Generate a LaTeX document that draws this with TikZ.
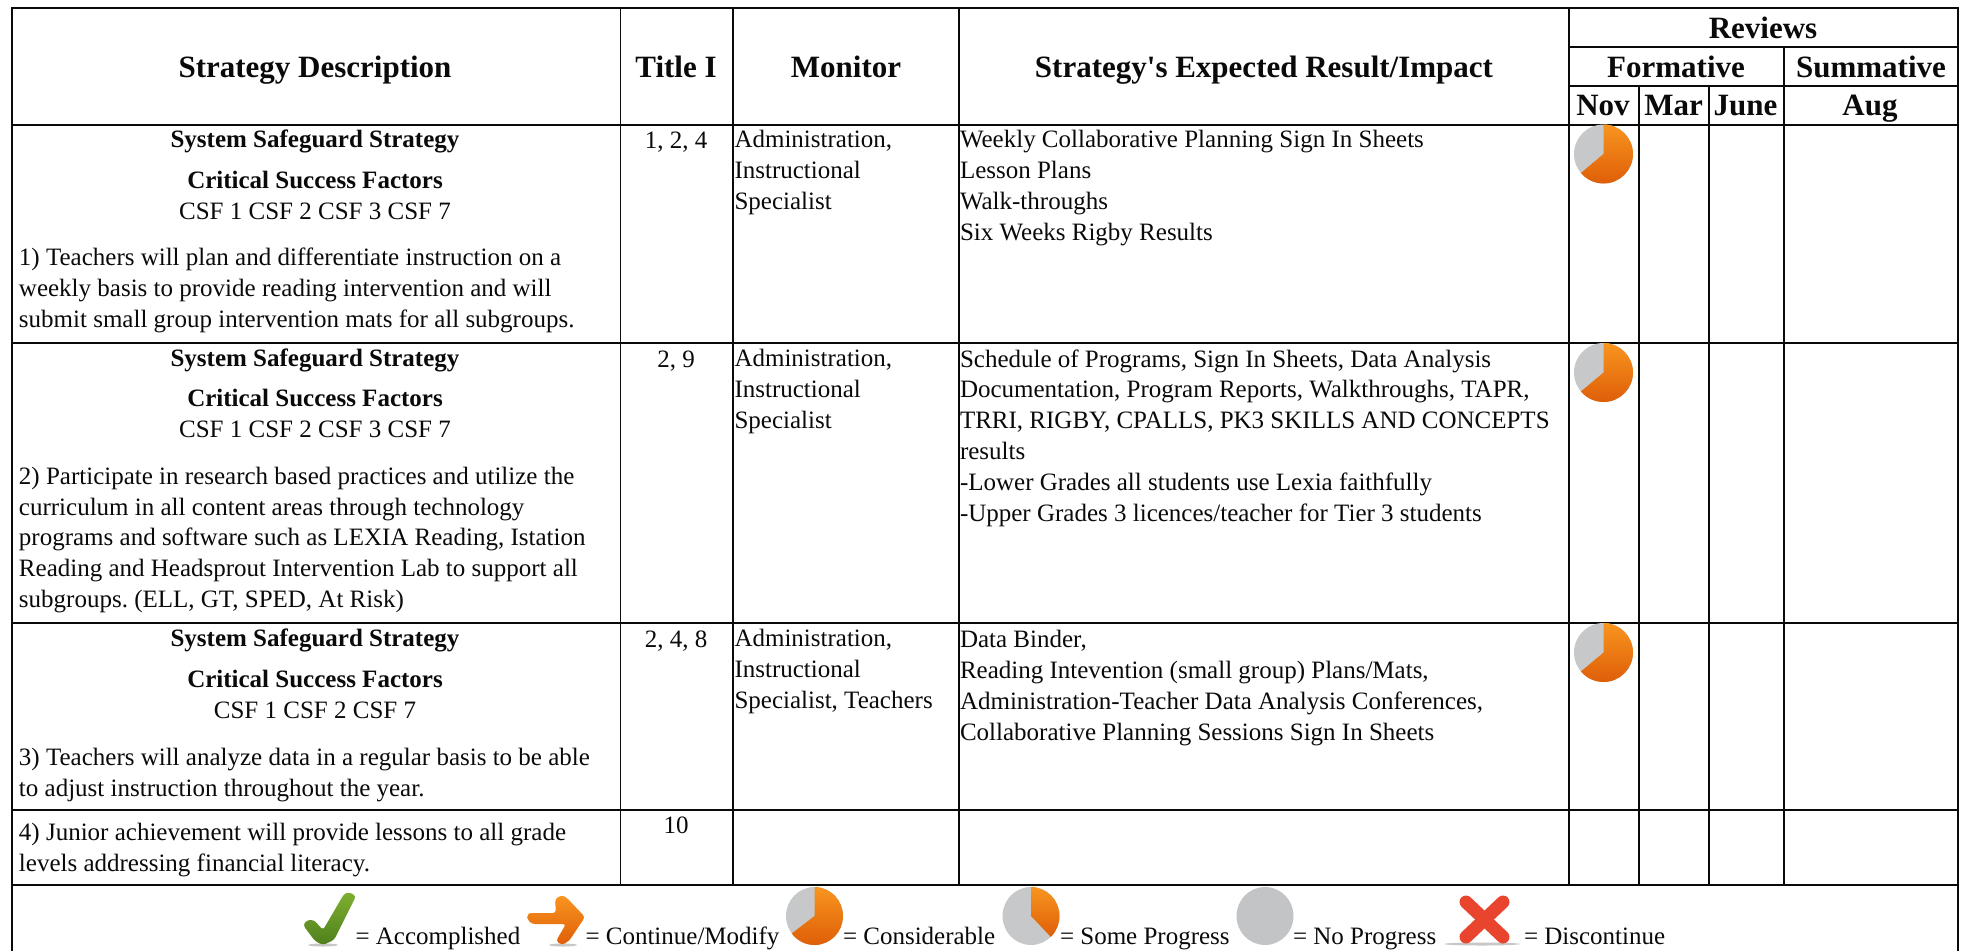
\documentclass[tikz,border=0pt]{standalone}
\usepackage{fontspec}
\setmainfont{Liberation Serif}
\frenchspacing
\definecolor{ink}{HTML}{0A0A0A}
\definecolor{pieGray}{HTML}{C6C8CA}
\definecolor{pieGrayD}{HTML}{B8BABC}
\definecolor{orangeT}{HTML}{F8951F}
\definecolor{orangeB}{HTML}{DF5E08}
\definecolor{greenT}{HTML}{7FB02F}
\definecolor{greenB}{HTML}{4F7F1D}
\definecolor{redX}{HTML}{E8442E}
\tikzset{
  body/.style={inner sep=0pt,outer sep=0pt,text=ink,font=\fontsize{25}{30.8}\selectfont,anchor=base west,align=left},
  bodyc/.style={inner sep=0pt,outer sep=0pt,text=ink,font=\fontsize{25}{30.8}\selectfont,anchor=base},
  bodyb/.style={bodyc,font=\fontsize{25}{30.8}\selectfont\bfseries},
  head/.style={inner sep=0pt,outer sep=0pt,text=ink,font=\fontsize{31}{36}\selectfont\bfseries,anchor=base},
  rowrule/.style={draw=ink,line width=2pt},
  colrule/.style={draw=ink,line width=1.7pt},
  iconshadow/.style={fill=black!22},
}
% \pieicon{x}{y}{rx}{ry}{orange end angle, clockwise from the top edge measured in the flipped y axis}
\newcommand{\pieicon}[5]{%
  \fill[pieGray] (#1,#2) ellipse [x radius=#3,y radius=#4];
  \path[top color=orangeT,bottom color=orangeB]
    (#1,#2) -- ({#1},{#2-#4}) arc [start angle=-90,end angle=#5,x radius=#3,y radius=#4] -- cycle;
}
\begin{document}
\begin{tikzpicture}[x=1pt,y=-1pt]
\useasboundingbox (0,0) rectangle (1963,951);
\fill[white] (0,0) rectangle (1963,951);
% rules
\draw[rowrule] (11,8) -- (1959,8);
\draw[rowrule] (1569,47) -- (1958,47);
\draw[rowrule] (1569,85.5) -- (1958,85.5);
\foreach \yy in {124.5,342.5,622.5,810,885}
  \draw[rowrule] (11,\yy) -- (1959,\yy);
\foreach \xx in {12,1958}
  \draw[colrule] (\xx,8) -- (\xx,951);
\foreach \xx in {620.5,733,959,1569}
  \draw[colrule] (\xx,8) -- (\xx,885);
\draw[colrule] (1784,47) -- (1784,885);
\foreach \xx in {1639,1709}
  \draw[colrule] (\xx,85.5) -- (\xx,885);
% header
\node[head] (hStrategy) at (315,77) {Strategy Description};
\node[head] (hTitle) at (676,77) {Title I};
\node[head] (hMonitor) at (846,77) {Monitor};
\node[head] (hImpact) at (1264,77) {Strategy\textquotesingle s Expected Result/Impact};
\node[head] (hReviews) at (1763,38) {Reviews};
\node[head] (hFormative) at (1676,77) {Formative};
\node[head] (hSummative) at (1871,77) {Summative};
\node[head] (hNov) at (1603,115) {Nov};
\node[head] (hMar) at (1673.5,115) {Mar};
\node[head] (hJune) at (1745.5,115) {June};
\node[head] (hAug) at (1870,115) {Aug};
% row 1
\node[bodyb] (a1) at (315,147) {System Safeguard Strategy};
\node[bodyb] (b1) at (315,188) {Critical Success Factors};
\node[bodyc] (c1) at (315,219) {CSF 1 CSF 2 CSF 3 CSF 7};
\node[body] (d1) at (19,327) {1) Teachers will plan and differentiate instruction on a\\weekly basis to provide reading intervention and will\\submit small group intervention mats for all subgroups.};
\node[bodyc] (t1) at (676,148) {1, 2, 4};
\node[body] (m1) at (734.5,209.5) {Administration,\\Instructional\\Specialist};
\node[body] (r1) at (960,240) {Weekly Collaborative Planning Sign In Sheets\\Lesson Plans\\Walk-throughs\\Six Weeks Rigby Results};
% row 2
\node[bodyb] (a2) at (315,366) {System Safeguard Strategy};
\node[bodyb] (b2) at (315,406) {Critical Success Factors};
\node[bodyc] (c2) at (315,437) {CSF 1 CSF 2 CSF 3 CSF 7};
\node[body] (d2) at (19,607.5) {2) Participate in research based practices and utilize the\\curriculum in all content areas through technology\\programs and software such as LEXIA Reading, Istation\\Reading and Headsprout Intervention Lab to support all\\subgroups. (ELL, GT, SPED, At Risk)};
\node[bodyc] (t2) at (676,367) {2, 9};
\node[body] (m2) at (734.5,428.5) {Administration,\\Instructional\\Specialist};
\node[body] (r2) at (960,521) {Schedule of Programs, Sign In Sheets, Data Analysis\\Documentation, Program Reports, Walkthroughs, TAPR,\\TRRI, RIGBY, CPALLS, PK3 SKILLS AND CONCEPTS\\results\\-Lower Grades all students use Lexia faithfully\\-Upper Grades 3 licences/teacher for Tier 3 students};
% row 3
\node[bodyb] (a3) at (315,646) {System Safeguard Strategy};
\node[bodyb] (b3) at (315,687) {Critical Success Factors};
\node[bodyc] (c3) at (315,718) {CSF 1 CSF 2 CSF 7};
\node[body] (d3) at (19,796) {3) Teachers will analyze data in a regular basis to be able\\to adjust instruction throughout the year.};
\node[bodyc] (t3) at (676,647) {2, 4, 8};
\node[body] (m3) at (734.5,708.5) {Administration,\\Instructional\\Specialist, Teachers};
\node[body] (r3) at (960,740) {Data Binder,\\Reading Intevention (small group) Plans/Mats,\\Administration-Teacher Data Analysis Conferences,\\Collaborative Planning Sessions Sign In Sheets};
% row 4
\node[body] (d4) at (19,871) {4) Junior achievement will provide lessons to all grade\\levels addressing financial literacy.};
\node[bodyc] (t4) at (676,833) {10};
% review pies
\pieicon{1603.5}{154}{29.5}{29.5}{140}
\pieicon{1603.5}{372.5}{29.5}{29.5}{140}
\pieicon{1603.5}{652.5}{29.5}{29.5}{140}
% legend icons
\fill[iconshadow] (323,945) ellipse [x radius=15,y radius=1.5];
\path[top color=greenT,bottom color=greenB,rounded corners=3pt]
  (349,892) -- (356,896) -- (334,940) -- (323,945) -- (315,941) -- (303,925) -- (307,920) -- (314,920) -- (323,930) -- (344,894) -- cycle;
\fill[iconshadow] (563,945) ellipse [x radius=14,y radius=1.5];
\path[top color=orangeT,bottom color=orangeB,rounded corners=3pt]
  (528,913) -- (556,913) -- (555,899) -- (562,895) -- (567,898) -- (585,917) -- (569,941) -- (562,945) -- (556,941) -- (566,924) -- (532,924) -- (527,919) -- cycle;
\pieicon{814.5}{916}{28.5}{29}{143}
\pieicon{1031}{916}{28.5}{29}{46}
\fill[pieGrayD!85!white] (1265,916) ellipse [x radius=28.5,y radius=29];
\fill[iconshadow] (1482,944) ellipse [x radius=38,y radius=1.5];
\draw[redX,line width=13pt,line cap=round] (1466,902) -- (1503,937);
\draw[redX,line width=13pt,line cap=round] (1503,902) -- (1466,937);
% legend text
\node[body] (l1) at (355.5,944) {= Accomplished};
\node[body] (l2) at (585.5,944) {= Continue/Modify};
\node[body] (l3) at (843,944) {= Considerable};
\node[body] (l4) at (1060,944) {= Some Progress};
\node[body] (l5) at (1293,944) {= No Progress};
\node[body] (l6) at (1524,944) {= Discontinue};
\end{tikzpicture}
\end{document}
